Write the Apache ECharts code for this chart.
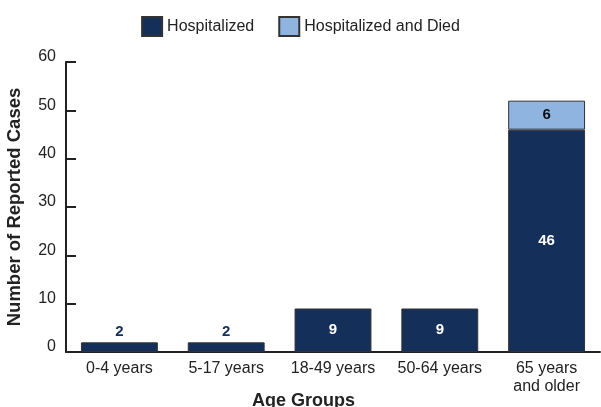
<!DOCTYPE html>
<html><head><meta charset="utf-8">
<script src="https://cdn.jsdelivr.net/npm/echarts@6/dist/echarts.min.js"></script>
<style>html,body{margin:0;padding:0;background:#fff}#c{width:601px;height:407px}</style>
</head><body><div id="c"></div>
<script>
var categories = ['0-4 years', '5-17 years', '18-49 years', '50-64 years', '65 years\nand older'];
var hospitalized = [2, 2, 9, 9, 46];
var hospitalizedDied = [null, null, null, null, 6];
var yTicks = { min: 0, max: 60, interval: 10 };

var NAVY = '#14305a', LIGHT = '#8fb4df', FONT = 'Liberation Sans, Arial, sans-serif';
var chart = echarts.init(document.getElementById('c'));
chart.setOption({
  animation: false,
  textStyle: { fontFamily: FONT },
  legend: {
    top: 11, left: 'center', itemWidth: 20, itemHeight: 19, itemGap: 24,
    icon: 'rect',
    textStyle: { fontSize: 16, color: '#222', fontFamily: FONT },
    data: ['Hospitalized', 'Hospitalized and Died']
  },
  title: {
    text: 'Age Groups', left: 252, top: 392, padding: 0,
    textStyle: { fontSize: 18, fontWeight: 'bold', color: '#222', fontFamily: FONT }
  },
  grid: { left: 66, right: 1, top: 62, bottom: 55, containLabel: false, outerBoundsMode: 'none' },
  xAxis: {
    type: 'category', data: categories,
    axisLine: { lineStyle: { color: '#222', width: 2 } },
    axisTick: { inside: true, length: 6, lineStyle: { color: '#222', width: 2 } },
    axisLabel: { interval: 0, fontSize: 16, color: '#222', margin: 8, lineHeight: 18, fontFamily: FONT }
  },
  yAxis: {
    type: 'value', min: yTicks.min, max: yTicks.max, interval: yTicks.interval,
    name: 'Number of Reported Cases', nameLocation: 'middle', nameGap: 42,
    nameTextStyle: { fontSize: 18.5, fontWeight: 'bold', color: '#222', fontFamily: FONT },
    axisLine: { show: true, lineStyle: { color: '#222', width: 2 } },
    axisTick: { show: true, inside: true, length: 10, lineStyle: { color: '#222', width: 2 } },
    splitLine: { show: false },
    axisLabel: { fontSize: 16, color: '#222', margin: 10, verticalAlign: 'bottom', lineHeight: 10, fontFamily: FONT }
  },
  series: [
    {
      name: 'Hospitalized', type: 'bar', stack: 'a', barWidth: '72%',
      itemStyle: { color: NAVY, borderColor: '#333', borderWidth: 1 },
      data: hospitalized.map(function (v) {
        return {
          value: v,
          label: v < 5
            ? { show: true, position: 'top', color: NAVY, fontWeight: 'bold', fontSize: 15, distance: 3 }
            : { show: true, position: 'inside', color: '#fff', fontWeight: 'bold', fontSize: 15 }
        };
      })
    },
    {
      name: 'Hospitalized and Died', type: 'bar', stack: 'a', barWidth: '72%',
      itemStyle: { color: LIGHT, borderColor: '#333', borderWidth: 1 },
      label: { show: true, position: 'inside', color: '#111', fontWeight: 'bold', fontSize: 15 },
      data: hospitalizedDied
    }
  ]
});
</script></body></html>
